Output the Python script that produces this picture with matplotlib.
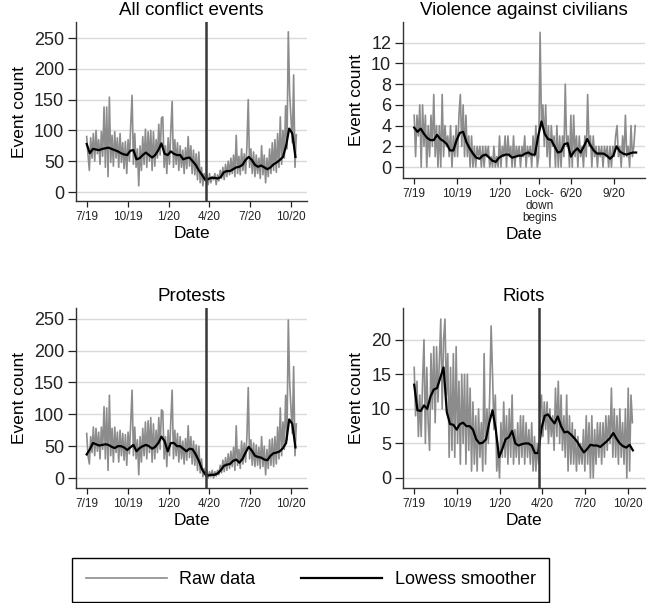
import matplotlib.pyplot as plt
from matplotlib.lines import Line2D
import pandas as pd

plt.rcParams['font.family'] = ['Liberation Sans', 'DejaVu Sans']

# raw series are read every 3 days from 1 July 2019, smoothers every 7 days
raw_start = '2019-07-01'
lockdown = '2020-03-25'

all_raw = [90, 60, 35, 88, 55, 95, 50, 100, 62, 85, 45, 98, 58, 138, 40, 138, 25, 154, 48, 92,
           42, 98, 55, 88, 40, 95, 48, 80, 38, 82, 30, 85, 50, 110, 157, 45, 95, 40, 70, 10,
           75, 35, 90, 45, 102, 40, 98, 50, 100, 35, 98, 42, 85, 55, 110, 60, 120, 122, 40, 75,
           30, 88, 45, 100, 147, 40, 85, 45, 80, 35, 75, 40, 68, 30, 72, 38, 90, 42, 75, 30,
           68, 28, 62, 20, 65, 15, 40, 10, 30, 18, 28, 12, 30, 15, 25, 20, 30, 12, 28, 18,
           35, 22, 40, 20, 45, 25, 50, 28, 55, 30, 60, 25, 92, 30, 58, 28, 70, 35, 62, 30,
           75, 150, 40, 70, 30, 65, 25, 60, 30, 55, 22, 75, 28, 60, 15, 55, 25, 70, 30, 80,
           35, 85, 32, 95, 40, 122, 45, 100, 55, 140, 70, 260, 160, 120, 80, 190, 40, 93]
all_smooth = [78, 63, 70, 69, 68, 70, 71, 72, 70, 68, 66, 63, 61, 60, 67, 68, 53, 55, 60, 64,
              60, 56, 60, 68, 79, 62, 60, 66, 62, 60, 60, 53, 55, 56, 50, 44, 35, 28, 20, 21,
              23, 23, 22, 24, 32, 34, 34, 37, 40, 41, 44, 52, 57, 52, 44, 41, 43, 40, 37, 40,
              45, 48, 52, 57, 75, 103, 95, 57]

vac_raw = [5, 1, 5, 3, 6, 0, 6, 2, 5, 0, 4, 1, 5, 2, 7, 1, 4, 0, 4, 0,
           7, 1, 4, 2, 3, 1, 4, 0, 3, 1, 4, 1, 5, 7, 2, 6, 1, 5, 1, 3,
           0, 3, 0, 2, 0, 2, 1, 2, 0, 2, 0, 2, 1, 2, 0, 1, 0, 2, 0, 1,
           0, 3, 0, 2, 1, 3, 0, 3, 1, 2, 0, 3, 0, 2, 1, 2, 0, 2, 1, 3,
           0, 2, 1, 2, 0, 3, 1, 4, 0, 1, 13, 4, 6, 2, 6, 1, 4, 0, 4, 2,
           3, 0, 4, 0, 3, 0, 3, 1, 8, 2, 3, 0, 5, 0, 5, 1, 3, 0, 3, 1,
           2, 0, 3, 1, 7, 2, 3, 0, 3, 1, 2, 0, 2, 1, 2, 0, 2, 1, 2, 0,
           2, 0, 2, 1, 3, 4, 1, 2, 0, 3, 1, 5, 1, 2, 0, 4, 1, 2, 4]
vac_smooth = [3.8, 3.4, 3.7, 3.2, 2.8, 2.6, 2.6, 3.1, 2.7, 2.5, 2.2, 1.6, 1.6, 2.6, 3.3, 3.4,
              2.4, 1.8, 1.3, 0.9, 0.8, 1.1, 1.2, 0.9, 0.6, 0.5, 0.9, 1.1, 1.2, 1.2, 0.9, 1.0,
              1.1, 1.1, 1.3, 1.4, 1.2, 1.2, 3.0, 4.4, 3.2, 2.7, 2.6, 2.0, 1.4, 1.5, 2.2, 2.3,
              1.0, 1.5, 1.8, 1.4, 2.0, 2.7, 2.1, 1.6, 1.3, 1.3, 1.3, 1.1, 0.8, 1.1, 2.0, 1.5,
              1.3, 1.2, 1.3, 1.4, 1.4]

prot_raw = [70, 35, 22, 65, 40, 80, 35, 78, 42, 72, 30, 80, 45, 112, 30, 110, 12, 130, 35, 78,
            25, 80, 40, 72, 25, 75, 35, 70, 28, 68, 20, 72, 38, 90, 138, 35, 80, 30, 60, 5,
            65, 25, 78, 35, 88, 30, 90, 40, 95, 25, 85, 30, 75, 40, 95, 45, 107, 105, 30, 65,
            18, 75, 35, 90, 138, 30, 75, 35, 70, 25, 65, 30, 58, 22, 62, 28, 82, 32, 65, 22,
            58, 20, 52, 12, 50, 8, 30, 2, 15, 3, 12, 0, 10, 2, 12, 0, 10, 3, 12, 5,
            20, 8, 28, 10, 32, 12, 38, 15, 42, 18, 48, 12, 82, 20, 45, 15, 58, 22, 55, 25,
            65, 142, 30, 60, 20, 55, 18, 52, 20, 48, 15, 65, 18, 50, 5, 45, 15, 60, 20, 62,
            18, 65, 22, 80, 30, 110, 35, 88, 45, 130, 60, 248, 150, 110, 70, 175, 35, 85]
prot_smooth = [37, 45, 55, 53, 51, 52, 53, 52, 49, 47, 50, 50, 48, 44, 48, 52, 42, 47, 50, 52,
               50, 46, 49, 55, 65, 58, 42, 55, 55, 50, 50, 46, 42, 46, 45, 37, 27, 14, 6, 4,
               5, 5, 7, 12, 19, 21, 22, 27, 29, 24, 30, 40, 49, 43, 35, 33, 32, 29, 28, 35,
               39, 40, 42, 47, 55, 92, 85, 48]

riot_raw = [16, 9, 14, 6, 12, 6, 14, 20, 5, 16, 8, 4, 18, 10, 19, 8, 19, 11, 17, 23,
            10, 20, 23, 12, 18, 3, 16, 4, 18, 3, 19, 5, 14, 2, 15, 5, 15, 2, 15, 4,
            13, 1, 11, 2, 9, 1, 10, 3, 8, 1, 18, 2, 10, 5, 12, 22, 15, 7, 12, 1,
            4, 0, 8, 3, 11, 3, 9, 2, 10, 3, 12, 2, 7, 3, 8, 2, 9, 3, 9, 2,
            8, 3, 7, 2, 8, 1, 6, 1, 5, 2, 10, 12, 6, 11, 7, 11, 5, 10, 6, 9,
            4, 13, 6, 14, 5, 12, 4, 9, 3, 12, 1, 9, 2, 8, 2, 7, 1, 6, 2, 5,
            2, 7, 1, 9, 2, 8, 0, 9, 0, 7, 2, 8, 3, 8, 2, 8, 3, 9, 4, 9,
            5, 13, 3, 10, 3, 9, 2, 10, 3, 8, 2, 10, 0, 13, 1, 12, 8]
riot_smooth = [13.5, 9.8, 9.7, 10.5, 10.0, 11.8, 12.8, 13.0, 14.5, 16.0, 9.5, 7.8, 7.7, 7.0,
               7.8, 8.0, 7.5, 7.5, 7.0, 5.6, 5.0, 5.1, 5.6, 8.0, 9.8, 7.0, 3.0, 4.2, 5.6, 5.9,
               6.8, 5.0, 4.7, 4.9, 5.0, 5.0, 4.7, 3.6, 3.6, 7.2, 9.0, 9.2, 8.5, 7.9, 8.9, 7.5,
               6.6, 6.7, 6.3, 5.8, 5.2, 4.4, 3.7, 4.2, 4.8, 4.7, 4.7, 4.5, 4.9, 5.3, 5.8, 6.5,
               5.7, 5.0, 4.6, 4.4, 4.8, 4.0]

tick_dates = ['2019-07-01', '2019-10-01', '2020-01-01', '2020-04-01', '2020-07-01', '2020-10-01']
tick_labels = ['7/19', '10/19', '1/20', '4/20', '7/20', '10/20']
vac_tick_dates = ['2019-07-01', '2019-10-01', '2020-01-01', lockdown, '2020-06-01', '2020-09-01']
vac_tick_labels = ['7/19', '10/19', '1/20', 'Lock-\ndown\nbegins', '6/20', '9/20']

raw_col = '#8c8c8c'
grid_col = '#dadada'
W, H = 661, 603

fig = plt.figure(figsize=(W / 100, H / 100), dpi=100)


def panel(rect, title, raw, smooth, yticks, ylim, xt, xl, vline=True):
    x0, top, x1, bot = rect
    ax = fig.add_axes([x0 / W, 1 - bot / H, (x1 - x0) / W, (bot - top) / H])
    rd = pd.date_range(raw_start, periods=len(raw), freq='3D')
    sd = pd.date_range(raw_start, periods=len(smooth), freq='7D')
    ax.plot(rd, raw, color=raw_col, lw=1.2, zorder=2)
    ax.plot(sd, smooth, color='black', lw=1.6, zorder=3)
    if vline:
        ax.axvline(pd.Timestamp(lockdown), color='#383838', lw=1.8, zorder=4)
    ax.set_xlim(pd.Timestamp('2019-06-07'), pd.Timestamp('2020-11-07'))
    ax.set_ylim(*ylim)
    ax.set_yticks(yticks)
    ax.set_xticks([pd.Timestamp(d) for d in xt])
    ax.set_xticklabels(xl, fontsize=8.5, linespacing=1.0)
    ax.tick_params(axis='y', labelsize=13, length=5.5, width=0.9, pad=3, colors='#222222')
    ax.tick_params(axis='x', length=4.5, width=0.9, pad=3, colors='#222222')
    ax.yaxis.grid(True, color=grid_col, lw=1.0, zorder=0)
    ax.set_axisbelow(True)
    for s in ['top', 'right']:
        ax.spines[s].set_visible(False)
    for s in ['left', 'bottom']:
        ax.spines[s].set_color('#333333')
        ax.spines[s].set_linewidth(1.0)
    ax.set_title(title, fontsize=13.5, pad=5)
    ax.set_ylabel('Event count', fontsize=12.5, labelpad=5)
    ax.set_xlabel('Date', fontsize=12.5, labelpad=2)
    return ax


panel((76, 22, 307, 201), 'All conflict events', all_raw, all_smooth,
      [0, 50, 100, 150, 200, 250], (-14.6, 276), tick_dates, tick_labels)
panel((403, 22, 645, 178), 'Violence against civilians', vac_raw, vac_smooth,
      [0, 2, 4, 6, 8, 10, 12], (-1.06, 14.0), vac_tick_dates, vac_tick_labels, vline=False)
panel((76, 308, 307, 488), 'Protests', prot_raw, prot_smooth,
      [0, 50, 100, 150, 200, 250], (-15.7, 267), tick_dates, tick_labels)
panel((403, 308, 645, 488), 'Riots', riot_raw, riot_smooth,
      [0, 5, 10, 15, 20], (-1.45, 24.6), tick_dates, tick_labels)

handles = [Line2D([], [], color=raw_col, lw=1.2), Line2D([], [], color='black', lw=1.6)]
leg = fig.legend(handles, ['Raw data', 'Lowess smoother'], loc='lower left',
                 bbox_to_anchor=(72 / W, 1 / H), borderaxespad=0, ncol=2, fontsize=13,
                 frameon=True, fancybox=False, edgecolor='black', framealpha=1,
                 handlelength=4.5, handletextpad=0.7, columnspacing=2.5, borderpad=0.75)
leg.get_frame().set_linewidth(1.0)

fig.savefig('out.png', dpi=100)
